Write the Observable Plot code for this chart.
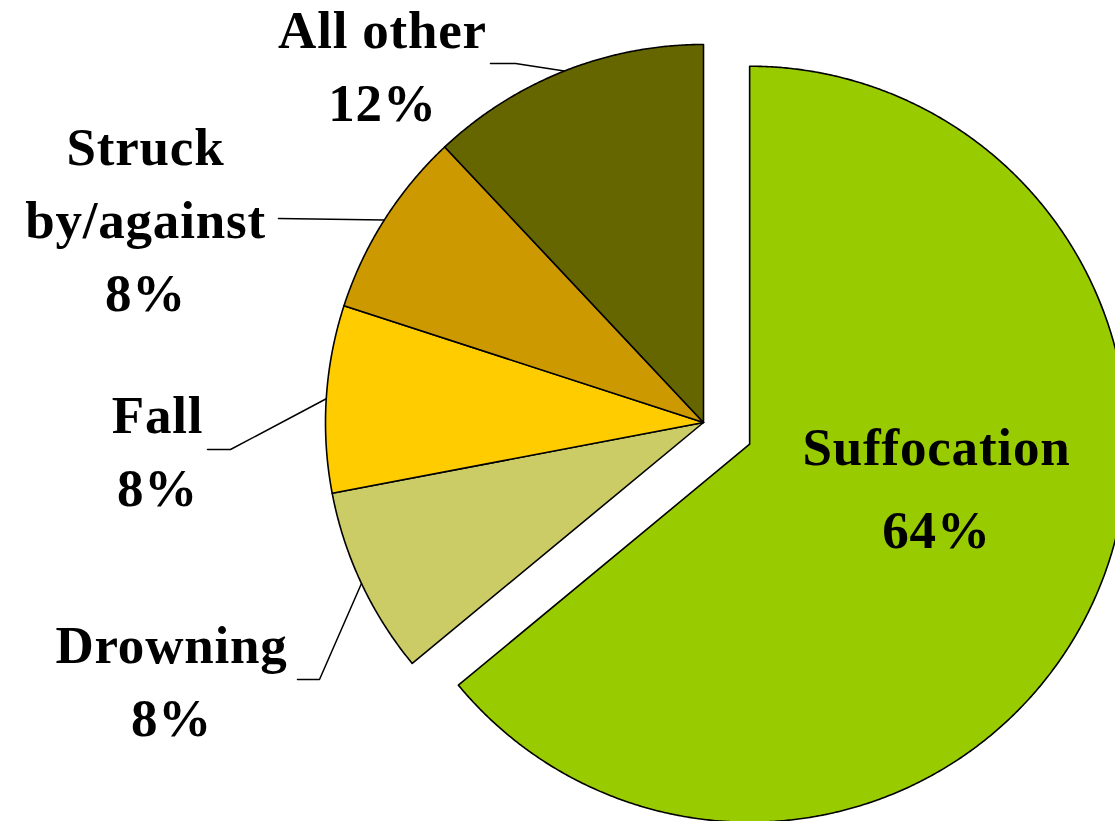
<!DOCTYPE html>
<html><head><meta charset="utf-8">
<script src="https://cdn.jsdelivr.net/npm/d3@7"></script>
<script src="https://cdn.jsdelivr.net/npm/@observablehq/plot@0.6"></script>
<style>body{margin:0;background:#fff;overflow:hidden} svg text{letter-spacing:0.8px}</style>
</head><body><div id="chart"></div>
<script>
// ---- data ----
const categories = ["Suffocation", "Drowning", "Fall", "Struck by/against", "All other"];
const labelLines = [["Suffocation"], ["Drowning"], ["Fall"], ["Struck", "by/against"], ["All other"]];
const values = [64, 8, 8, 8, 12];
const colors = ["#99CC00", "#CCCC66", "#FFCC00", "#CC9900", "#666600"];
const explodedCategory = "Suffocation";

// ---- layout ----
const W = 1115, H = 821;
const center = [703, 422], R = 378, explodeBy = 51;
const labelLayout = {
  "All other":         {x: 382, y: 120, leader: [[515, 63], [490, 63]]},
  "Struck by/against": {x: 145, y: 310, leader: [[278, 218]]},
  "Fall":              {x: 157, y: 505, leader: [[230, 449], [207, 449]]},
  "Drowning":          {x: 171, y: 735, leader: [[319, 679], [297, 679]]},
  "Suffocation":       {x: 936, y: 547, inside: true}
};

const arcs = d3.pie().sort(null).value((d, i) => values[i])(categories);

const slicePts = [], leaderPts = [], outerLabels = [], innerLabels = [];
arcs.forEach((a, i) => {
  const cat = categories[i];
  const mid = (a.startAngle + a.endAngle) / 2;
  const off = cat === explodedCategory ? explodeBy : 0;
  const cx = center[0] + off * Math.sin(mid), cy = center[1] - off * Math.cos(mid);
  slicePts.push({cat, x: cx, y: cy});
  const n = Math.max(2, Math.ceil((a.endAngle - a.startAngle) / 0.005));
  for (let k = 0; k <= n; k++) {
    const t = a.startAngle + (a.endAngle - a.startAngle) * k / n;
    slicePts.push({cat, x: cx + R * Math.sin(t), y: cy - R * Math.cos(t)});
  }
  slicePts.push({cat, x: cx, y: cy});

  const L = labelLayout[cat];
  const text = [...labelLines[i], `${values[i]}%`].join("\n");
  if (L.inside) {
    innerLabels.push({x: L.x, y: L.y, text});
  } else {
    outerLabels.push({x: L.x, y: L.y, text});
    leaderPts.push({cat, x: cx + R * Math.sin(mid), y: cy - R * Math.cos(mid)});
    L.leader.forEach(([x, y]) => leaderPts.push({cat, x, y}));
  }
});

const font = {fontFamily: "Liberation Serif, serif", fontWeight: "bold", fontSize: 53, fill: "black", textAnchor: "middle", lineAnchor: "bottom"};

const chart = Plot.plot({
  width: W, height: H, margin: 0,
  x: {domain: [0, W], range: [0, W], axis: null},
  y: {domain: [0, H], range: [0, H], axis: null},
  color: {domain: categories, range: colors},
  style: {background: "white", overflow: "hidden"},
  marks: [
    Plot.line(slicePts, {x: "x", y: "y", z: "cat", fill: "cat", stroke: "black", strokeWidth: 1.6, strokeLinejoin: "round"}),
    Plot.line(leaderPts, {x: "x", y: "y", z: "cat", stroke: "black", strokeWidth: 1.5, strokeLinejoin: "miter"}),
    Plot.text(outerLabels, {x: "x", y: "y", text: "text", lineHeight: 1.37, ...font}),
    Plot.text(innerLabels, {x: "x", y: "y", text: "text", lineHeight: 1.55, ...font})
  ]
});
document.getElementById("chart").appendChild(chart);
</script>
</body></html>
